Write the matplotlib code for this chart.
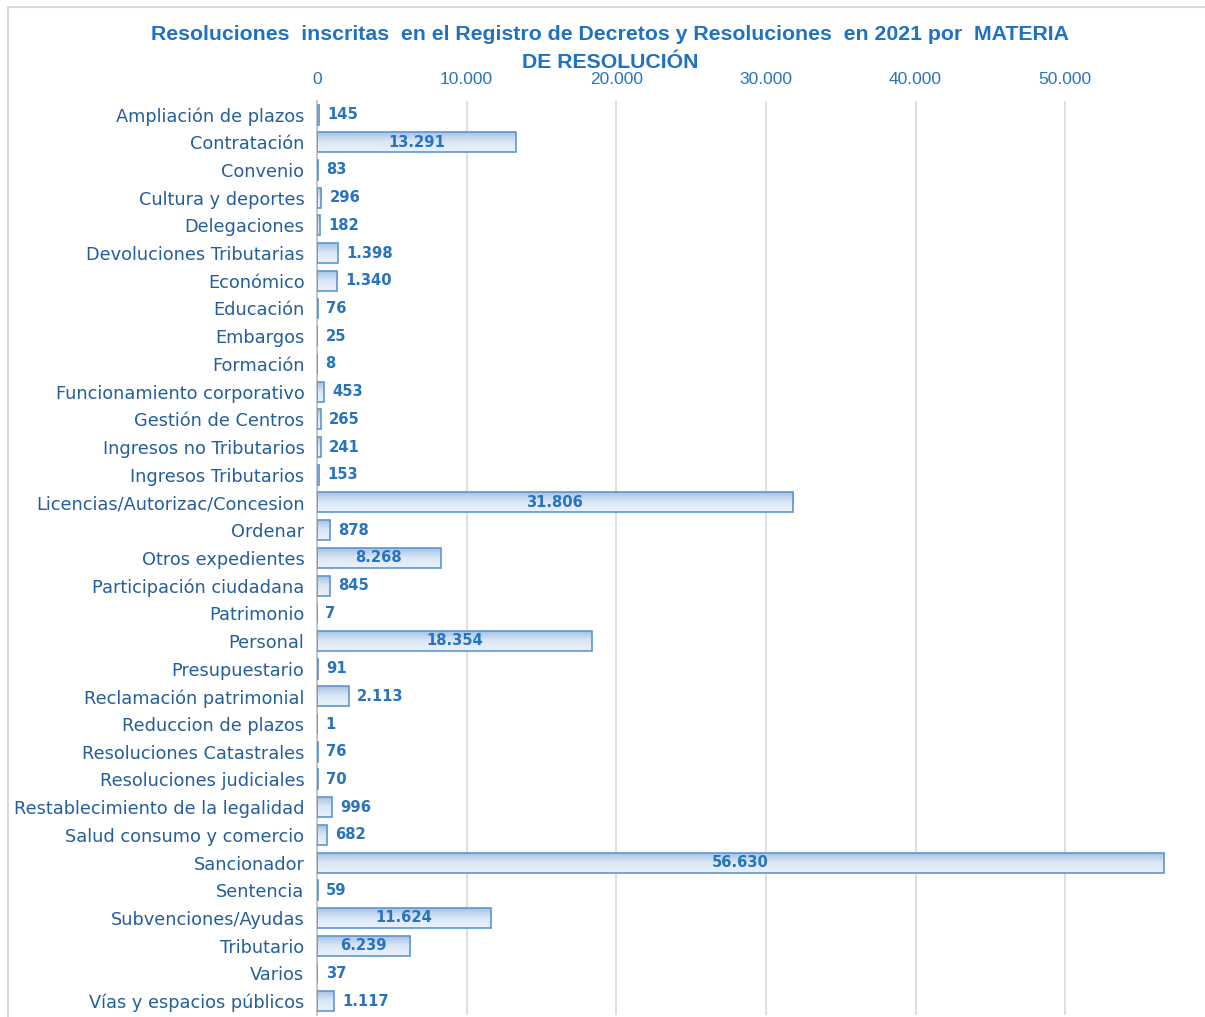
import matplotlib.pyplot as plt
import numpy as np
from matplotlib.patches import Rectangle

# datos
categorias = ['Ampliación de plazos', 'Contratación', 'Convenio', 'Cultura y deportes',
              'Delegaciones', 'Devoluciones Tributarias', 'Económico', 'Educación',
              'Embargos', 'Formación', 'Funcionamiento corporativo', 'Gestión de Centros',
              'Ingresos no Tributarios', 'Ingresos Tributarios', 'Licencias/Autorizac/Concesion',
              'Ordenar', 'Otros expedientes', 'Participación ciudadana', 'Patrimonio',
              'Personal', 'Presupuestario', 'Reclamación patrimonial', 'Reduccion de plazos',
              'Resoluciones Catastrales', 'Resoluciones judiciales',
              'Restablecimiento de la legalidad', 'Salud consumo y comercio', 'Sancionador',
              'Sentencia', 'Subvenciones/Ayudas', 'Tributario', 'Varios',
              'Vías y espacios públicos']
valores = [145, 13291, 83, 296, 182, 1398, 1340, 76, 25, 8, 453, 265, 241, 153, 31806,
           878, 8268, 845, 7, 18354, 91, 2113, 1, 76, 70, 996, 682, 56630, 59, 11624,
           6239, 37, 1117]
ticks = [0, 10000, 20000, 30000, 40000, 50000]
titulo = 'Resoluciones  inscritas  en el Registro de Decretos y Resoluciones  en 2021 por  MATERIA\nDE RESOLUCIÓN'

def fmt(v):
    return f'{v:,}'.replace(',', '.')

azul_txt = '#2873BE'
azul_cat = '#245E9C'
borde = '#5E97D0'

fig = plt.figure(figsize=(12.05, 10.17), dpi=100)
ax = fig.add_axes([0.263, 0.002, 0.716, 0.899])

n = len(categorias)
y = np.arange(n)
alto = 0.72

# degradado vertical de las barras
grad = np.linspace(0, 1, 100).reshape(-1, 1)
cmap = plt.matplotlib.colors.LinearSegmentedColormap.from_list('g', ['#A5C3E6', '#DDE8F6', '#E9F1FA'])
for yi, v in zip(y, valores):
    ax.imshow(grad, extent=[0, v, yi + alto / 2, yi - alto / 2], aspect='auto',
              cmap=cmap, zorder=2, interpolation='bicubic')
ax.barh(y, valores, height=alto, facecolor='none', edgecolor=borde, linewidth=1.2, zorder=3)

for yi, v in zip(y, valores):
    if v > 5000:
        ax.text(v / 2, yi, fmt(v), ha='center', va='center', color=azul_txt,
                fontsize=10.6, fontweight='bold', zorder=4)
    else:
        ax.annotate(fmt(v), (v, yi), xytext=(6, 0), textcoords='offset points',
                    ha='left', va='center', color=azul_txt, fontsize=10.6,
                    fontweight='bold', zorder=4)

ax.set_xlim(0, 57650)
ax.set_ylim(n - 0.5, -0.5)
ax.set_yticks(y)
ax.set_yticklabels(categorias, fontsize=12.8, color=azul_cat)
ax.set_xticks(ticks)
ax.set_xticklabels([fmt(t) for t in ticks], fontsize=12.5, color=azul_txt,
                   family=['Liberation Sans', 'DejaVu Sans'])
ax.xaxis.tick_top()
ax.tick_params(axis='both', length=0)
ax.tick_params(axis='x', pad=10)
ax.tick_params(axis='y', pad=9)

ax.grid(True, axis='x', color='#D9D9D9', linewidth=1.2, zorder=0)
ax.set_axisbelow(True)
for s in ['top', 'right', 'bottom']:
    ax.spines[s].set_visible(False)
ax.spines['left'].set_color('#BFBFBF')
ax.spines['left'].set_linewidth(1.2)

fig.text(0.506, 0.975, titulo, ha='center', va='top', color='#1F72C2', fontsize=15.3,
         fontweight='bold', linespacing=1.55, family=['Liberation Sans', 'DejaVu Sans'])

# marco del gráfico
fig.patches.append(Rectangle((0.007, -0.01), 1.1, 1.003, transform=fig.transFigure,
                             fill=False, edgecolor='#D9D9D9', linewidth=1.5))

plt.savefig('out.png', dpi=100)
